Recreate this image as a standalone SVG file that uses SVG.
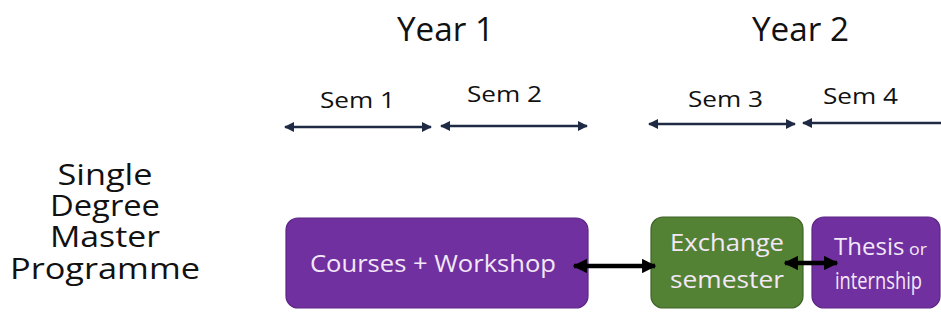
<svg xmlns="http://www.w3.org/2000/svg" width="941" height="321" viewBox="0 0 941 321">
<defs>
<style>
text{font-family:"Open Sans","Noto Sans","Liberation Sans",sans-serif}
.hd{font-size:33px;fill:#111}
.sm{font-size:22px;fill:#111}
.lbl{font-size:30px;fill:#111;text-anchor:middle}
.bx{font-size:23px;fill:#f3e8f7;text-anchor:middle}
.purple{fill:#7030a0;stroke:#5c2585;stroke-width:1.2}
.green{fill:#548235;stroke:#3f6427;stroke-width:1.2}
.span{stroke:#1f2a44;stroke-width:2.5;fill:none}
.conn{stroke:#000;stroke-width:4.5;fill:none}
</style>
<marker id="ah" viewBox="0 0 10 10" refX="9" refY="5" markerWidth="4" markerHeight="4" orient="auto-start-reverse"><path d="M0,0 L10,5 L0,10 z" fill="#1f2a44"/></marker>
<marker id="ahb" viewBox="0 0 10 10" refX="9" refY="5" markerWidth="3.2" markerHeight="3.2" orient="auto-start-reverse"><path d="M0,0 L10,5 L0,10 z" fill="#000"/></marker>
</defs>
<rect width="941" height="321" fill="#fff"/>
<g id="headers">
<text class="hd" x="397" y="41" textLength="97" lengthAdjust="spacingAndGlyphs">Year 1</text>
<text class="hd" x="752" y="41" textLength="97" lengthAdjust="spacingAndGlyphs">Year 2</text>
<text class="sm" x="320" y="108" textLength="75" lengthAdjust="spacingAndGlyphs">Sem 1</text>
<text class="sm" x="467" y="102" textLength="75" lengthAdjust="spacingAndGlyphs">Sem 2</text>
<text class="sm" x="688" y="107" textLength="75" lengthAdjust="spacingAndGlyphs">Sem 3</text>
<text class="sm" x="823" y="104" textLength="75" lengthAdjust="spacingAndGlyphs">Sem 4</text>
</g>
<g id="timeline">
<line class="span" x1="285" y1="127" x2="431" y2="127" marker-start="url(#ah)" marker-end="url(#ah)"/>
<line class="span" x1="441" y1="126" x2="587" y2="126" marker-start="url(#ah)" marker-end="url(#ah)"/>
<line class="span" x1="649" y1="124" x2="795" y2="124" marker-start="url(#ah)" marker-end="url(#ah)"/>
<line class="span" x1="803" y1="123" x2="945" y2="123" marker-start="url(#ah)"/>
</g>
<g id="programme">
<text class="lbl" x="105" y="185" textLength="95" lengthAdjust="spacingAndGlyphs">Single</text>
<text class="lbl" x="105" y="216" textLength="110" lengthAdjust="spacingAndGlyphs">Degree</text>
<text class="lbl" x="105" y="247" textLength="110" lengthAdjust="spacingAndGlyphs">Master</text>
<text class="lbl" x="105" y="279" textLength="190" lengthAdjust="spacingAndGlyphs">Programme</text>
</g>
<g id="courses">
<rect class="purple" x="286" y="218" width="302" height="90" rx="12"/>
<text class="bx" x="433" y="272" font-size="22" textLength="246" lengthAdjust="spacingAndGlyphs">Courses + Workshop</text>
</g>
<g id="exchange">
<rect class="green" x="651" y="217" width="152" height="91" rx="12"/>
<text class="bx" x="727" y="251" textLength="114" lengthAdjust="spacingAndGlyphs">Exchange</text>
<text class="bx" x="727" y="288" textLength="114" lengthAdjust="spacingAndGlyphs">semester</text>
</g>
<g id="thesis">
<rect class="purple" x="812" y="217" width="128" height="91" rx="12"/>
<text class="bx" x="834" y="255" style="text-anchor:start" textLength="93" lengthAdjust="spacingAndGlyphs">Thesis<tspan font-size="17"> or</tspan></text>
<text class="bx" x="835" y="289" font-size="18" style="text-anchor:start" textLength="87" lengthAdjust="spacingAndGlyphs">internship</text>
</g>
<g id="connectors">
<line class="conn" x1="574" y1="266" x2="655" y2="266" marker-start="url(#ahb)" marker-end="url(#ahb)"/>
<line class="conn" x1="785" y1="263" x2="837" y2="263" marker-start="url(#ahb)" marker-end="url(#ahb)"/>
</g>
</svg>
